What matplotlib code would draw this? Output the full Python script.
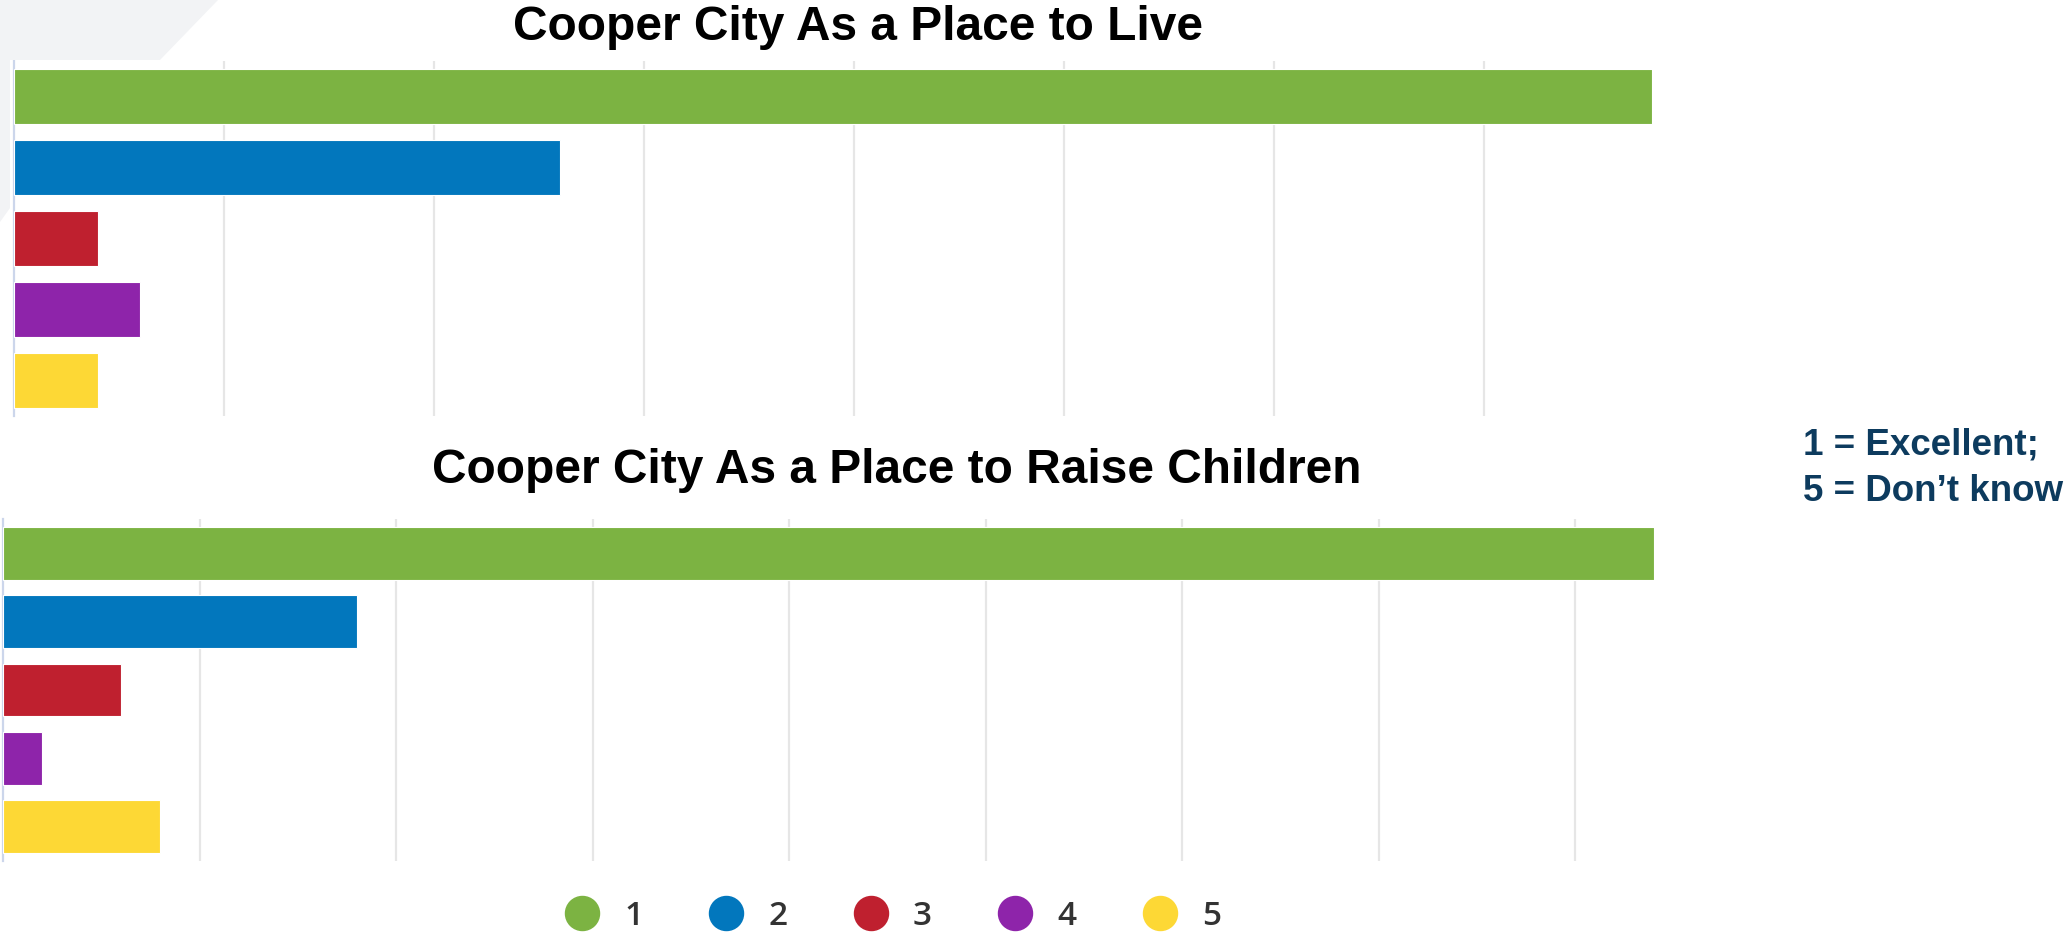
import matplotlib
matplotlib.use("Agg")
import matplotlib.pyplot as plt
from matplotlib.lines import Line2D
from matplotlib.patches import Polygon

# ---------------- data ----------------
categories = ["1", "2", "3", "4", "5"]
live_values = [78, 26, 4, 6, 4]
children_values = [84, 18, 6, 2, 8]
colors = ["#7cb342", "#0277bd", "#bf202f", "#8e24aa", "#fdd835"]
title_live = "Cooper City As a Place to Live"
title_children = "Cooper City As a Place to Raise Children"
note_lines = ["1 = Excellent;", "5 = Don\u2019t know"]

W, H = 2067, 938
fig = plt.figure(figsize=(W / 100, H / 100), dpi=100)
fig.patch.set_facecolor("white")

def fx(px):
    return px / W

def fy(py):
    return 1 - py / H

# light grey background shape in the upper-left corner
bg = Polygon([(fx(0), fy(0)), (fx(218), fy(0)), (fx(160), fy(60)), (fx(10), fy(60)),
              (fx(10), fy(208)), (fx(0), fy(222))],
             closed=True, transform=fig.transFigure, facecolor="#f2f3f5",
             edgecolor="none", zorder=0)
fig.patches.append(bg)


def make_axes(left, right, top, bottom):
    return fig.add_axes([fx(left), fy(bottom), fx(right) - fx(left), (bottom - top) / H])


def draw(ax, values, step):
    y = list(range(len(categories)))
    ax.barh(y, values, height=0.77, color=colors, edgecolor="white", linewidth=0.8, zorder=3)
    ax.set_ylim(len(categories) - 0.5, -0.5)
    ax.set_xlim(0, max(values))
    ticks = list(range(step, int(max(values)) + 1, step))
    for t in ticks:
        ax.axvline(t, color="#e6e6e6", lw=1.6, zorder=1)
    for s in ["top", "right", "bottom"]:
        ax.spines[s].set_visible(False)
    ax.spines["left"].set_color("#ccd6eb")
    ax.spines["left"].set_linewidth(1.6)
    ax.set_xticks([])
    ax.set_yticks([])
    ax.set_facecolor("none")


ax1 = make_axes(14, 1652, 61, 416)
draw(ax1, live_values, 10)
ax2 = make_axes(3, 1654, 519, 861)
draw(ax2, children_values, 10)

title_font = dict(family=["Liberation Sans", "DejaVu Sans"], fontweight="bold",
                  fontsize=34.5, color="black")
fig.text(fx(858), fy(40), title_live, ha="center", va="baseline", **title_font)
fig.text(fx(897), fy(483), title_children, ha="center", va="baseline", **title_font)

note_font = dict(family=["Liberation Sans", "DejaVu Sans"], fontweight="bold",
                 fontsize=26.5, color="#0d3b5e")
fig.text(fx(1803), fy(455), note_lines[0], ha="left", va="baseline", **note_font)
fig.text(fx(1803), fy(501), note_lines[1], ha="left", va="baseline", **note_font)

handles = [Line2D([], [], marker="o", ls="", ms=24.5, markerfacecolor=c,
                  markeredgecolor=c) for c in colors]
fig.legend(handles, categories, loc="center", bbox_to_anchor=(fx(893), fy(916)),
           ncol=5, frameon=False, handlelength=1.0, handletextpad=0.76,
           columnspacing=2.0,
           prop=dict(family=["Open Sans", "DejaVu Sans"], size=24, weight="semibold"),
           labelcolor="#333333", borderpad=0)

fig.savefig("out.png", dpi=100, facecolor="white")
